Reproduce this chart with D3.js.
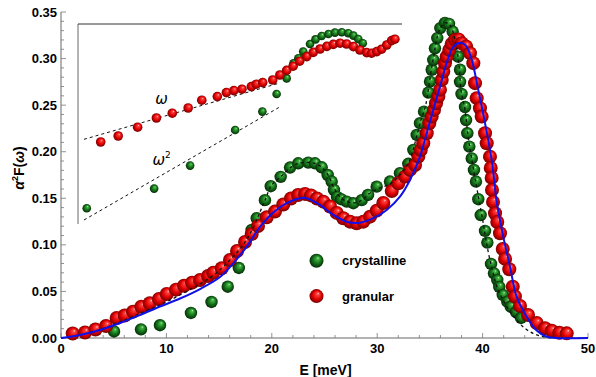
<!DOCTYPE html>
<html>
<head>
<meta charset="utf-8">
<script src="https://cdn.jsdelivr.net/npm/d3@7"></script>
<style>
  body { margin: 0; background: #fff; }
  svg { display: block; font-family: "Liberation Sans", Arial, sans-serif; }
</style>
</head>
<body>
<svg id="chart" width="596" height="377"></svg>
<script>
// crystalline (green) data points: E [meV], a2F
const crystE = [5.03,7.59,9.39,12.33,14.28,15.82,16.87,18.09,18.57,19.35,19.90,20.84,21.73,22.51,23.46,24.10,24.73,25.30,25.68,25.90,26.19,26.57,27.11,27.73,28.53,29.13,29.95,31.21,32.16,32.95,33.43,33.75,34.06,34.44,34.85,35.01,35.17,35.32,35.48,35.70,35.99,36.43,36.81,37.16,37.48,37.67,37.86,37.86,38.00,38.33,38.43,38.55,38.74,38.97,39.18,39.37,39.59,39.82,40.23,40.45,40.80,41.08,41.39,41.58,41.91,42.34,42.67,43.17,43.64];
const crystA = [0.007,0.0093,0.0137,0.0269,0.0387,0.0551,0.0752,0.116,0.1286,0.148,0.163,0.173,0.183,0.1876,0.1883,0.1876,0.1833,0.175,0.168,0.159,0.1515,0.149,0.1464,0.1447,0.148,0.1536,0.1625,0.168,0.177,0.187,0.202,0.218,0.2306,0.243,0.2635,0.2753,0.288,0.2986,0.311,0.322,0.3327,0.3383,0.3373,0.329,0.3165,0.302,0.288,0.275,0.262,0.248,0.234,0.2199,0.2055,0.1928,0.1805,0.168,0.149,0.132,0.115,0.1024,0.0795,0.0695,0.0623,0.0548,0.0462,0.039,0.0336,0.0279,0.0215];

// granular (red) data points
const granE = [1.11,2.28,3.27,4.27,5.28,6.04,6.83,7.62,8.42,9.30,10.03,10.91,11.67,12.43,13.19,13.95,14.45,15.25,16.03,16.70,17.46,18.09,18.69,19.52,20.30,21.09,21.82,22.49,23.15,23.72,24.29,24.89,25.52,26.16,26.78,27.42,28.05,28.68,29.32,29.95,30.58,31.38,32.00,32.64,33.11,33.59,33.90,34.13,34.37,34.70,34.94,35.17,35.39,35.58,35.80,35.96,36.12,36.27,36.43,36.59,36.84,37.07,37.38,37.71,38.02,38.43,38.80,39.12,39.28,39.44,39.75,39.91,40.23,40.39,40.70,40.77,40.86,40.89,40.99,41.18,41.39,41.65,41.91,42.13,42.53,42.86,43.07,43.55,44.31,45.13,45.92,46.56,47.28,47.98];
const granA = [0.0048,0.0059,0.0091,0.0129,0.0215,0.0242,0.0283,0.0336,0.0373,0.0419,0.0473,0.0519,0.0561,0.0594,0.0623,0.0666,0.0701,0.0749,0.0838,0.0934,0.1031,0.1117,0.1203,0.1296,0.1357,0.1434,0.1498,0.1536,0.1547,0.1531,0.1498,0.1464,0.1412,0.1343,0.1286,0.1249,0.1232,0.1249,0.1303,0.1367,0.145,0.1579,0.1662,0.1733,0.1805,0.1858,0.1947,0.2019,0.2091,0.2199,0.2306,0.2377,0.2449,0.2521,0.2592,0.2664,0.2771,0.286,0.2951,0.3021,0.3093,0.3158,0.3201,0.3206,0.3165,0.3129,0.3058,0.2951,0.2736,0.2575,0.2467,0.2377,0.2199,0.2091,0.1947,0.1826,0.1719,0.159,0.1461,0.1339,0.1246,0.1125,0.0956,0.0849,0.0738,0.0551,0.0446,0.0344,0.0247,0.0161,0.0104,0.0078,0.0057,0.005];

// dashed fit (crystalline)
const fitE = [0,1.80,3.70,5.60,7.50,9.39,11.29,13.19,14.61,16.03,17.27,18.12,18.88,19.45,19.92,20.87,21.73,22.49,23.43,24.10,24.76,25.33,25.90,26.47,27.13,27.80,28.56,29.32,30.27,31.21,32.16,32.92,33.40,33.78,34.16,34.54,34.82,35.10,35.39,35.67,36.05,36.43,36.81,37.19,37.48,37.76,37.95,38.33,38.61,38.90,39.28,39.66,40.04,40.32,40.70,41.37,41.94,42.60,43.26,43.83,44.78,45.73,46.87,50];
const fitA = [0,0.0032,0.0091,0.0172,0.0263,0.0354,0.0462,0.058,0.0687,0.0838,0.0999,0.116,0.1353,0.1504,0.1633,0.1735,0.1826,0.1874,0.1885,0.1874,0.1831,0.1751,0.1611,0.1515,0.1466,0.145,0.1482,0.1557,0.1611,0.1654,0.1751,0.1869,0.2019,0.218,0.2342,0.247,0.2642,0.2857,0.304,0.3222,0.334,0.3383,0.3373,0.3287,0.3147,0.2932,0.2664,0.2449,0.218,0.1966,0.1719,0.1482,0.1246,0.1053,0.0838,0.0548,0.0408,0.0282,0.0193,0.0121,0.005,0.0014,0,0];

// blue solid fit (granular)
const blueE = [0,1.80,3.70,5.60,7.50,9.39,11.29,13.19,15.09,16.35,17.62,18.88,20.14,21.41,22.68,23.31,24.57,25.84,27.11,28.37,29.63,30.90,32.16,33.11,34.06,34.70,35.32,35.96,36.59,37.22,37.95,38.43,38.97,39.59,40.23,40.86,41.34,41.96,42.60,43.23,44.18,45.13,46.08,47.0,50];
const blueA = [0,0.0032,0.0086,0.0161,0.0247,0.0338,0.0424,0.0526,0.0655,0.0802,0.0981,0.1192,0.1348,0.1447,0.1501,0.1501,0.1429,0.1321,0.1249,0.1238,0.1286,0.1375,0.1518,0.1697,0.1947,0.2199,0.2449,0.2699,0.2951,0.3126,0.3169,0.3136,0.2986,0.2664,0.2306,0.1912,0.1461,0.1088,0.0766,0.0444,0.0229,0.0081,0.0014,0,0];

// inset (arbitrary log-log units, 0..100 on each side of the inset frame)
const insetRedU = [7.0,12.4,18.4,24.2,29.1,34.0,38.2,43.0,45.8,48.1,50.6,53.5,55.0,57.0,60.1,62.3,64.4,66.4,68.4,70.6,72.6,74.7,76.8,78.8,80.9,82.9,85.0,87.0,89.1,90.6,92.2,93.7,95.3,96.8,97.8];
const insetRedV = [41.0,44.0,48.4,53.0,55.4,58.0,61.9,63.7,65.7,66.7,67.4,68.7,69.9,70.7,72.0,74.5,76.8,78.9,81.4,83.7,85.8,87.5,88.8,89.8,90.4,90.0,88.7,87.0,85.7,85.4,86.2,87.4,89.5,91.7,92.4];
const insetGreenU = [2.7,23.5,34.6,48.5,56.9,61.3,64.4,66.5,68.0,69.5,71.6,73.3,75.2,77.3,79.3,81.4,83.4,85.0,86.5,87.9];
const insetGreenV = [7.9,17.7,29.2,47.0,56.2,65.0,72.8,80.4,82.9,86.2,90.0,92.3,94.0,95.0,95.7,95.9,95.4,94.2,92.5,90.4];
const omegaLineU = [1.85,62.3], omegaLineV = [42.35,70.5];
const omega2LineU = [1.85,62.1], omega2LineV = [2.0,58.35];

const xTicks = [0,10,20,30,40,50];
const yTicks = [0,0.05,0.10,0.15,0.20,0.25,0.30,0.35];

const svg = d3.select("#chart");
const x = d3.scaleLinear().domain([0,50]).range([61,588]);
const y = d3.scaleLinear().domain([0,0.35]).range([338,12]);
const ix = d3.scaleLinear().domain([0,100]).range([78,402]);
const iy = d3.scaleLinear().domain([0,100]).range([224,24]);

// sphere gradients
const defs = svg.append("defs");
function sphere(id, stops) {
  const g = defs.append("radialGradient").attr("id", id)
    .attr("cx", "50%").attr("cy", "50%").attr("r", "52%")
    .attr("fx", "62%").attr("fy", "30%");
  stops.forEach(s => g.append("stop").attr("offset", s[0]).attr("stop-color", s[1]));
}
sphere("gGreen", [["0%", "#c6f2c0"], ["14%", "#48b848"], ["55%", "#15741a"], ["100%", "#042805"]]);
sphere("gRed", [["0%", "#ffd2d2"], ["16%", "#ff4646"], ["60%", "#e00000"], ["100%", "#6e0000"]]);

// axes
const axisColor = "#9a9a9a";
svg.append("line").attr("x1", x(0)).attr("x2", x(50)).attr("y1", y(0)).attr("y2", y(0))
  .attr("stroke", axisColor).attr("stroke-width", 1.5);
svg.append("line").attr("x1", x(0)).attr("x2", x(0)).attr("y1", y(0)).attr("y2", y(0.35))
  .attr("stroke", axisColor).attr("stroke-width", 1.5);

const xMinor = d3.range(0, 50.01, 2);
svg.append("g").selectAll("line").data(xMinor).join("line")
  .attr("x1", d => x(d)).attr("x2", d => x(d))
  .attr("y1", y(0)).attr("y2", d => y(0) - (d % 10 === 0 ? 5 : 3))
  .attr("stroke", "#777").attr("stroke-width", 0.8);
const yMinor = d3.range(0, 0.3501, 0.01);
svg.append("g").selectAll("line").data(yMinor).join("line")
  .attr("y1", d => y(d)).attr("y2", d => y(d))
  .attr("x1", x(0)).attr("x2", (d, i) => x(0) + (i % 5 === 0 ? 5 : 3))
  .attr("stroke", "#777").attr("stroke-width", 0.8);

svg.append("g").selectAll("text").data(xTicks).join("text")
  .attr("x", d => x(d)).attr("y", 353).attr("text-anchor", "middle")
  .attr("font-size", 13).attr("font-weight", "bold").text(d => d);
svg.append("g").selectAll("text").data(yTicks).join("text")
  .attr("x", 57).attr("y", d => y(d) + 4.5).attr("text-anchor", "end")
  .attr("font-size", 13).attr("font-weight", "bold").text(d => d.toFixed(2));

svg.append("text").attr("x", x(25.1)).attr("y", 375).attr("text-anchor", "middle")
  .attr("font-size", 14).attr("font-weight", "bold").text("E [meV]");

const yl = svg.append("text").attr("transform", "translate(24,168) rotate(-90)")
  .attr("text-anchor", "middle").attr("font-size", 14).attr("font-weight", "bold");
yl.append("tspan").attr("font-style", "italic").text("α");
yl.append("tspan").attr("font-size", 9).attr("dy", -6).text("2");
yl.append("tspan").attr("dy", 6).text("F(");
yl.append("tspan").attr("font-style", "italic").text("ω");
yl.append("tspan").text(")");

// inset frame
svg.append("line").attr("x1", ix(0)).attr("x2", ix(0)).attr("y1", iy(0)).attr("y2", iy(100))
  .attr("stroke", "#a0a0a0").attr("stroke-width", 1.6);
svg.append("line").attr("x1", ix(0)).attr("x2", ix(100)).attr("y1", iy(100)).attr("y2", iy(100))
  .attr("stroke", "#333").attr("stroke-width", 1);

const dash = "3,3";
svg.append("line").attr("x1", ix(omegaLineU[0])).attr("y1", iy(omegaLineV[0]))
  .attr("x2", ix(omegaLineU[1])).attr("y2", iy(omegaLineV[1]))
  .attr("stroke", "#111").attr("stroke-width", 1).attr("stroke-dasharray", dash);
svg.append("line").attr("x1", ix(omega2LineU[0])).attr("y1", iy(omega2LineV[0]))
  .attr("x2", ix(omega2LineU[1])).attr("y2", iy(omega2LineV[1]))
  .attr("stroke", "#111").attr("stroke-width", 1).attr("stroke-dasharray", dash);

svg.append("text").attr("x", ix(25.8)).attr("y", iy(62.4) + 5).attr("text-anchor", "middle")
  .attr("font-size", 15).attr("font-style", "italic").attr("font-family", "DejaVu Sans").text("ω");
const w2 = svg.append("text").attr("x", ix(25.8)).attr("y", iy(32) + 5).attr("text-anchor", "middle")
  .attr("font-size", 15).attr("font-style", "italic").attr("font-family", "DejaVu Sans");
w2.append("tspan").text("ω");
w2.append("tspan").attr("font-size", 9).attr("dy", -7).attr("font-style", "normal").text("2");

svg.append("g").selectAll("circle").data(d3.zip(insetGreenU, insetGreenV)).join("circle")
  .attr("cx", d => ix(d[0])).attr("cy", d => iy(d[1])).attr("r", 4.3)
  .attr("fill", "url(#gGreen)");
svg.append("g").selectAll("circle").data(d3.zip(insetRedU, insetRedV)).join("circle")
  .attr("cx", d => ix(d[0])).attr("cy", d => iy(d[1])).attr("r", 4.8)
  .attr("fill", "url(#gRed)");

// main data
svg.append("g").selectAll("circle").data(d3.zip(crystE, crystA)).join("circle")
  .attr("cx", d => x(d[0])).attr("cy", d => y(d[1])).attr("r", 6.2)
  .attr("fill", "url(#gGreen)");
svg.append("g").selectAll("circle").data(d3.zip(granE, granA)).join("circle")
  .attr("cx", d => x(d[0])).attr("cy", d => y(d[1])).attr("r", 7)
  .attr("fill", "url(#gRed)");

const line = d3.line().x(d => x(d[0])).y(d => y(d[1])).curve(d3.curveCatmullRom.alpha(0.5));
svg.append("path").datum(d3.zip(fitE, fitA)).attr("d", line)
  .attr("fill", "none").attr("stroke", "#111").attr("stroke-width", 1.3).attr("stroke-dasharray", dash);
svg.append("path").datum(d3.zip(blueE, blueA)).attr("d", line)
  .attr("fill", "none").attr("stroke", "#1010e8").attr("stroke-width", 2);

// legend
const legend = [["crystalline", "url(#gGreen)", 0.083], ["granular", "url(#gRed)", 0.045]];
const lg = svg.append("g");
lg.selectAll("circle").data(legend).join("circle")
  .attr("cx", 316.5).attr("cy", d => y(d[2])).attr("r", 7).attr("fill", d => d[1]);
lg.selectAll("text").data(legend).join("text")
  .attr("x", 342).attr("y", d => y(d[2]) + 4.5)
  .attr("font-size", 13).attr("font-weight", "bold").text(d => d[0]);
</script>
</body>
</html>
